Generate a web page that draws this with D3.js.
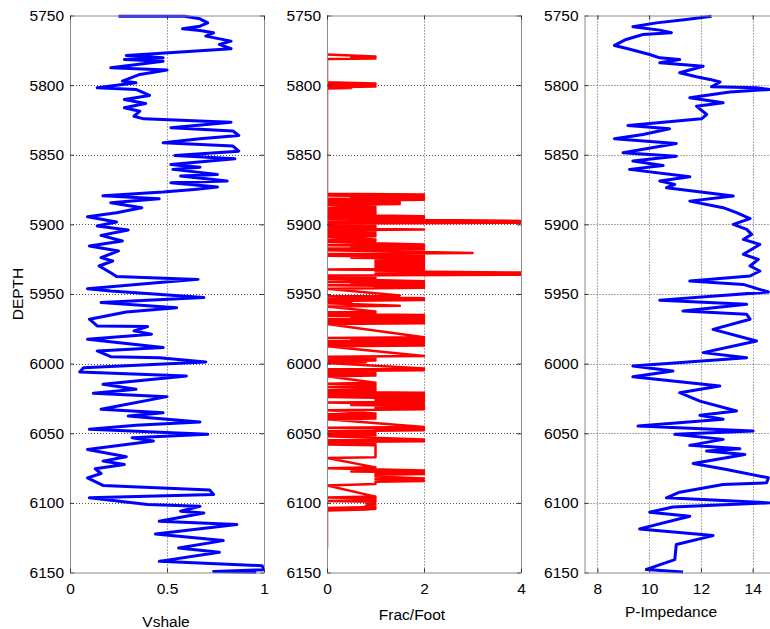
<!DOCTYPE html>
<html><head><meta charset="utf-8">
<script src="https://cdn.jsdelivr.net/npm/d3@7"></script>
<style>body{margin:0;background:#fff;} svg{display:block;font-family:"Liberation Sans",Arial,Helvetica,sans-serif;}</style>
</head><body><svg id="c" width="770" height="629"></svg>
<script>
// ---------- data ----------
const depthTicks = [5750, 5800, 5850, 5900, 5950, 6000, 6050, 6100, 6150];
const vshaleTicks = [0, 0.5, 1];
const fracTicks = [0, 2, 4];
const impTicks = [8, 10, 12, 14];

const vshaleLog = [[5750.5,0.25],[5750.5,0.59],[5752.4,0.67],[5755.3,0.71],[5757.7,0.67],[5759.5,0.58],[5760.8,0.67],[5762.4,0.74],[5764.8,0.70],[5768.4,0.83],[5770.8,0.77],[5773.9,0.83],[5774.9,0.71],[5778.7,0.29],[5780.4,0.48],[5781.6,0.28],[5782.8,0.48],[5787.6,0.21],[5789.2,0.50],[5792.3,0.36],[5797.1,0.27],[5798.3,0.34],[5801.9,0.14],[5803.1,0.34],[5807.4,0.41],[5810.3,0.28],[5813.2,0.39],[5816.3,0.28],[5818.7,0.36],[5822.3,0.33],[5824.2,0.38],[5826.6,0.83],[5830.6,0.52],[5833,0.84],[5836.1,0.87],[5838.5,0.67],[5841.4,0.48],[5843.8,0.84],[5847.4,0.87],[5850.5,0.54],[5852.9,0.85],[5857,0.52],[5858.9,0.67],[5860.5,0.53],[5864.1,0.76],[5865.3,0.57],[5868.9,0.81],[5870.1,0.52],[5873.2,0.76],[5874.9,0.64],[5876.8,0.48],[5879.5,0.17],[5881.6,0.46],[5884.4,0.21],[5888,0.37],[5891.6,0.24],[5894.5,0.09],[5898.3,0.24],[5901.2,0.14],[5904,0.30],[5907.9,0.16],[5911.9,0.27],[5915.6,0.10],[5919.1,0.25],[5923.9,0.16],[5926.3,0.22],[5929.9,0.15],[5934.7,0.21],[5937.5,0.24],[5939.5,0.66],[5941.8,0.46],[5946.2,0.09],[5947.8,0.21],[5952.6,0.69],[5956.1,0.16],[5959.8,0.55],[5962.9,0.29],[5968.1,0.10],[5972.9,0.14],[5973.4,0.40],[5976.5,0.33],[5978.9,0.42],[5982.5,0.09],[5988.5,0.48],[5990.9,0.14],[5995,0.21],[5995.7,0.46],[5998.8,0.70],[6002.9,0.07],[6006,0.05],[6008.9,0.60],[6014.8,0.17],[6018.4,0.34],[6021.3,0.12],[6023.7,0.50],[6032.8,0.16],[6035.2,0.48],[6037.6,0.30],[6041.9,0.67],[6044.3,0.34],[6047.2,0.10],[6050.8,0.71],[6053.2,0.32],[6055.6,0.43],[6061.6,0.09],[6066.9,0.29],[6070,0.17],[6072.4,0.28],[6075.5,0.13],[6078.9,0.16],[6082,0.09],[6087.5,0.17],[6090.8,0.72],[6094,0.74],[6096.4,0.10],[6101.2,0.40],[6102.4,0.67],[6106,0.57],[6107.2,0.69],[6113.2,0.46],[6115.6,0.86],[6122.3,0.44],[6127.1,0.79],[6132.4,0.56],[6135.5,0.77],[6142,0.46],[6145.1,0.99],[6148,1.0],[6149.2,0.74],[6149.9,0.96]];

const fracLog = [[5778,0],[5779.5,1],[5780.3,0.5],[5780.8,1],[5781.3,0],[5798,0],[5798.8,1],[5799.3,0],[5799.8,1],[5800.4,0],[5800.9,1],[5801.5,0],[5802,0.5],[5802.5,0],
[5878,0],[5878.6,2],[5879.3,0],[5879.9,2],[5880.5,0.5],[5881,2],[5881.6,0],[5882.3,2],[5883,0],[5884.2,1.5],[5884.8,0],[5885.4,1.5],[5886,0],
[5887.5,1],[5888.2,0],[5888.8,1],[5889.4,0],[5890,1],[5890.6,0],[5891.2,1],[5891.8,0],[5892.4,1],[5893,0],[5894.2,2],[5894.8,0],[5895.6,2],[5896.2,0],
[5897.5,4],[5898.2,0],[5898.8,4],[5899.4,0],[5900,1],[5900.6,0],[5901.2,1],[5901.8,0],[5902.4,1],[5903,0],[5903.6,2],[5904.2,0],
[5905,1],[5905.6,0],[5906.2,1],[5906.8,0],[5907.4,1],[5908,0],[5908.6,1],[5909.2,0],[5910.8,1],[5911.4,0],[5912,1],[5912.6,0],
[5914.4,2],[5915,0],[5915.6,2],[5916.2,0.5],[5916.8,2],[5917.4,0],[5918,2],[5918.6,0],[5920.6,3],[5921.3,0],[5921.9,2],[5922.5,0],
[5923.4,2],[5924,0.5],[5924.6,2],[5925.2,1],[5925.8,2],[5926.4,1],[5927,2],[5927.6,1],[5928.2,2],[5928.8,1],[5929.4,2],[5930,1],[5930.6,2],[5931.2,1],[5931.8,2],[5932.4,0],[5933,2],[5933.6,1],
[5934.6,4],[5935.5,1],[5936.2,4],[5936.8,0],[5937.4,1],[5938,0],[5938.6,1],[5939.2,0],
[5940.8,2],[5941.4,0],[5942,2],[5942.6,0.5],[5943.2,2],[5943.8,0],[5944.4,2],[5945,1],[5945.6,2],[5946.2,0],
[5951,1.5],[5951.6,0],[5953,2],[5953.6,0],[5954.3,2],[5955,0],[5956,0.5],[5956.6,0],[5958.5,1.5],[5959,0],
[5962.5,1],[5963.1,0],[5963.8,1],[5964.4,0],[5965,2],[5965.6,0],[5966.2,2],[5966.8,0.5],[5967.4,2],[5968,0],[5968.6,2],[5969.2,0],[5969.8,2],[5970.4,0],[5971,2],[5971.6,0],
[5981,2],[5981.6,0],[5982.2,2],[5982.8,0.5],[5983.4,2],[5984,0],[5984.6,2],[5985.2,0],[5985.8,2],[5986.4,0],[5987,2],[5987.6,0],
[5994.5,2],[5995.1,0],[5996.5,1],[5997.1,0],[5997.7,1],[5998.3,0],[5999,0.8],[5999.6,0],
[6003.5,2],[6004.1,0],[6004.7,2],[6005.3,0],[6006,1],[6006.6,0],[6007.2,1],[6007.8,0],[6008.5,1],[6009.1,0],
[6013.8,1],[6014.4,0],[6015,1],[6015.6,0.5],[6016.2,1],[6016.8,0],[6017.4,1],[6018,0.5],[6018.6,1],[6019.2,0],[6019.8,1],[6020.4,0],
[6021,2],[6021.6,0],[6022.2,2],[6022.8,0],[6023.4,2],[6024,0],[6025,2],[6025.6,1],[6026.2,2],[6026.8,1],[6027.4,2],[6028,0],
[6029.2,2],[6029.8,0.5],[6030.4,2],[6031,1],[6031.6,2],[6032.2,1],[6032.8,2],[6033.4,0],
[6035.8,1],[6036.4,0],[6037,1],[6037.6,0],[6038.2,1],[6038.8,0],[6039.4,1],[6040,0],
[6045.5,2],[6046.1,0],[6046.7,2],[6047.3,1],[6047.9,2],[6048.5,0],[6050,1],[6050.6,0],[6051.5,1],[6052.1,0],
[6054.5,2],[6055.1,0],[6055.7,2],[6056.3,0],[6057.5,1],[6058.1,0],[6058.7,1],[6060,1],[6062,1],[6064,1],[6066,1],[6067.2,1],[6067.8,0],
[6074.5,1],[6075.1,0],[6076.8,2],[6077.4,0.5],[6078,2],[6078.6,1],[6079.2,2],[6079.8,1],[6081,1],[6082.5,2],[6083.1,1],[6084.3,2],[6084.9,1],[6086.5,1],[6087.5,0],
[6095.5,1],[6096.1,0],[6096.7,1],[6097.3,0.8],[6098,1],[6098.6,0],[6099.2,1],[6100,0.8],[6101,1],[6102,0.8],[6103,1],[6103.6,0],[6104.2,1],[6104.8,0.8],[6105.4,0],
[6132,0]];

const impedanceLog = [[5750.5,12.41],[5752.9,11.44],[5755.3,10.28],[5758.1,9.37],[5760.5,10.41],[5762.4,10.86],[5763.6,9.76],[5767.2,9.11],[5771.5,8.66],[5773.9,9.18],[5778,10.02],[5780.4,10.41],[5781.6,11.18],[5784,10.41],[5786.4,12.09],[5791.1,11.18],[5794,11.83],[5795.9,12.35],[5797.8,12.74],[5801.2,12.41],[5801.9,14.15],[5803.1,14.67],[5805,13.12],[5809.1,11.57],[5812.7,12.86],[5815.1,11.83],[5821.1,12.22],[5824.2,12.02],[5829,9.18],[5831.3,10.79],[5835.4,9.76],[5838.5,8.66],[5841.9,11.05],[5848.6,8.99],[5851,11.05],[5854.5,9.37],[5857.7,10.54],[5860.5,9.24],[5865.8,11.57],[5868.9,10.41],[5871.3,10.99],[5873.7,10.67],[5879.7,13.25],[5883.3,11.57],[5888,12.86],[5891.6,13.38],[5895.9,13.9],[5900,13.25],[5903.6,13.77],[5907.2,13.96],[5910.8,13.64],[5914.4,14.28],[5921.5,13.64],[5925.1,14.22],[5929.9,13.9],[5933.5,14.28],[5937.1,13.9],[5940.7,11.57],[5943.1,13.64],[5948.6,14.61],[5954.4,10.41],[5957.4,13.77],[5962.2,11.31],[5964.6,13.77],[5968.1,13.9],[5975.4,12.47],[5983.7,14.15],[5992.1,12.09],[5995.7,13.77],[6001.7,9.37],[6005.3,10.92],[6009.4,9.37],[6016.1,12.73],[6020.9,11.18],[6026.9,11.96],[6034,13.38],[6037.1,11.96],[6040,12.86],[6044.8,9.57],[6048.4,14.02],[6050.8,10.99],[6054.4,12.86],[6058.7,11.57],[6061.1,13.51],[6062.8,12.22],[6065.2,13.7],[6071.7,11.7],[6076,12.99],[6082,14.61],[6085.6,14.54],[6086.8,12.86],[6092.3,11.18],[6096.4,10.67],[6100,14.67],[6102.9,10.92],[6106.7,10.02],[6109.6,11.57],[6118.7,9.63],[6123.5,12.47],[6129.9,11.05],[6140.7,10.99],[6147.8,9.89],[6149.7,11.31]];

// ---------- layout ----------
const svg = d3.select("#c");
const plotTop = 15.5, plotBottom = 572.5, panelW = 194;
const y = d3.scaleLinear().domain([5750, 6150]).range([plotTop, plotBottom]);

const panels = [
  {left: 70, domain: [0, 1], ticks: vshaleTicks, data: vshaleLog, color: "#0000ff", width: 3, label: "Vshale", lx: 166, ly: 627, fmt: d => d === 0.5 ? "0.5" : String(d)},
  {left: 327, domain: [0, 4], ticks: fracTicks, data: fracLog, color: "#ff0000", width: 2.5, label: "Frac/Foot", lx: 412, ly: 619.5, fmt: String},
  {left: 584.5, domain: [7.5, 15], ticks: impTicks, data: impedanceLog, color: "#0000ff", width: 3, label: "P-Impedance", lx: 671, ly: 617, fmt: String}
];

const gridCol = "#555";
panels.forEach((p, i) => {
  const x = d3.scaleLinear().domain(p.domain).range([p.left, p.left + panelW]);
  const g = svg.append("g");
  const interiorD = depthTicks.filter(d => d > 5750 && d < 6150);
  g.selectAll("line.hg").data(interiorD).join("line")
    .attr("x1", p.left).attr("x2", p.left + panelW)
    .attr("y1", d => Math.round(y(d)) + 0.5).attr("y2", d => Math.round(y(d)) + 0.5)
    .attr("stroke", gridCol).attr("stroke-width", 1).attr("stroke-dasharray", "1,2");
  const interiorX = p.ticks.filter(t => t > p.domain[0] && t < p.domain[1]);
  g.selectAll("line.vg").data(interiorX).join("line")
    .attr("x1", t => Math.round(x(t)) + 0.5).attr("x2", t => Math.round(x(t)) + 0.5)
    .attr("y1", plotTop).attr("y2", plotBottom)
    .attr("stroke", gridCol).attr("stroke-width", 1).attr("stroke-dasharray", "1,2");

  const clipId = "clip" + i;
  svg.append("clipPath").attr("id", clipId).append("rect")
    .attr("x", p.left).attr("y", plotTop - 2).attr("width", panelW).attr("height", plotBottom - plotTop + 4);
  const line = d3.line().x(d => x(d[1])).y(d => y(d[0]));
  svg.append("path").datum(p.data)
    .attr("clip-path", `url(#${clipId})`)
    .attr("d", line).attr("fill", "none")
    .attr("stroke", p.color).attr("stroke-width", p.width)
    .attr("stroke-linejoin", "round").attr("stroke-linecap", "butt");

  const axL = d3.axisLeft(y).tickValues(depthTicks).tickSizeInner(-4).tickSizeOuter(0).tickPadding(6).tickFormat(d3.format("d"));
  const axR = d3.axisRight(y).tickValues(depthTicks).tickSizeInner(-4).tickSizeOuter(0).tickFormat("");
  const axB = d3.axisBottom(x).tickValues(p.ticks).tickSizeInner(-4).tickSizeOuter(0).tickPadding(10).tickFormat(p.fmt);
  const axT = d3.axisTop(x).tickValues(p.ticks).tickSizeInner(-4).tickSizeOuter(0).tickFormat("");
  const ga = svg.append("g");
  ga.append("g").attr("transform", `translate(${p.left},0)`).call(axL);
  ga.append("g").attr("transform", `translate(${p.left + panelW},0)`).call(axR);
  ga.append("g").attr("transform", `translate(0,${plotBottom})`).call(axB);
  ga.append("g").attr("transform", `translate(0,${plotTop})`).call(axT);
  ga.selectAll(".domain").attr("stroke", "#8a8a8a").attr("stroke-width", 1);
  ga.selectAll(".tick line").attr("stroke", "#333").attr("stroke-width", 1);
  ga.selectAll("text").attr("font-size", 15.5).attr("fill", "#000").attr("font-family", '"Liberation Sans", Arial, sans-serif');

  svg.append("text").attr("x", p.lx).attr("y", p.ly).attr("text-anchor", "middle")
    .attr("font-size", 15.5).attr("fill", "#000").text(p.label);
});

svg.append("text").attr("transform", `translate(23,${(plotTop + plotBottom) / 2}) rotate(-90)`)
  .attr("text-anchor", "middle").attr("font-size", 15.5).attr("fill", "#000").text("DEPTH");
</script></body></html>
